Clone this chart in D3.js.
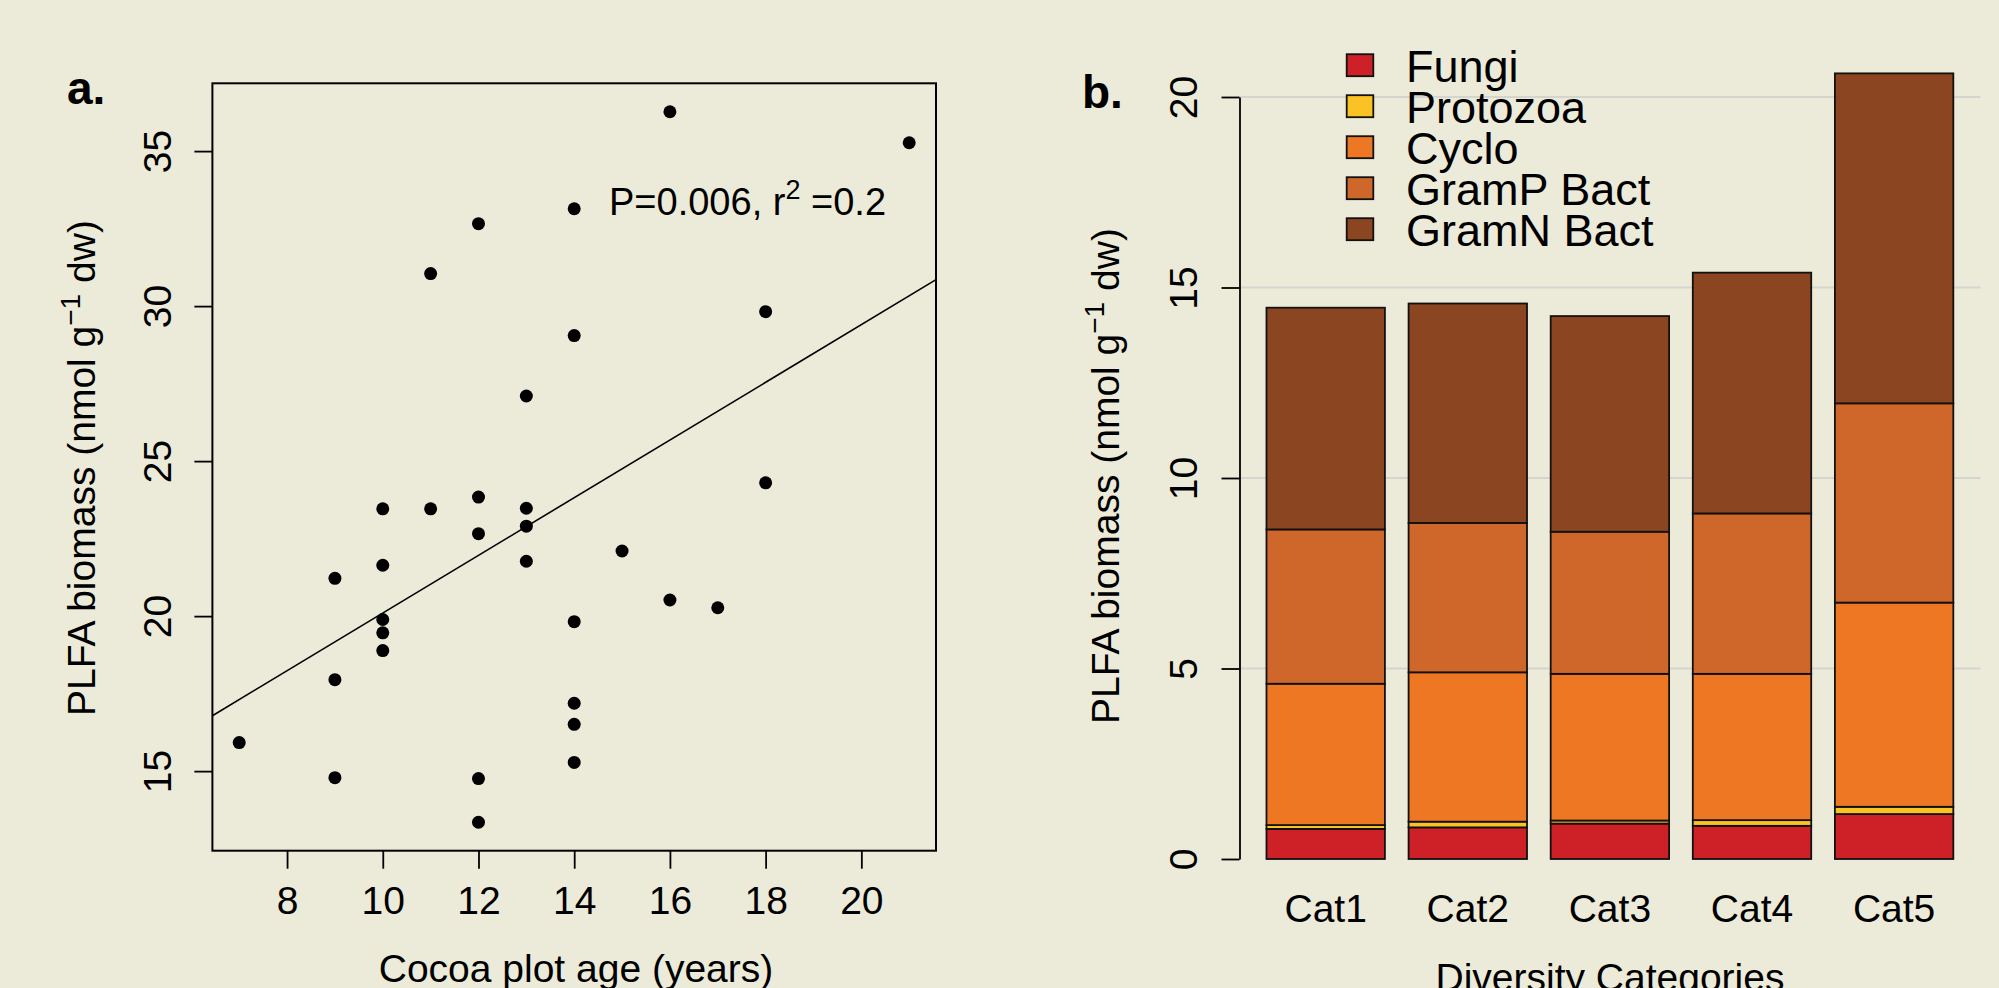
<!DOCTYPE html>
<html>
<head>
<meta charset="utf-8">
<script src="https://cdn.jsdelivr.net/npm/d3@7"></script>
<style>
  html, body { margin: 0; padding: 0; background: #ECEAD8; }
  svg { display: block; }
  text { font-family: "Liberation Sans", Arial, sans-serif; fill: #000; }
</style>
</head>
<body>
<svg id="chart" width="1999" height="988"></svg>
<script>
// panel a: plot age vs PLFA biomass
const ages = [7, 9, 9, 9, 10, 10, 10, 10, 10, 11, 11, 12, 12, 12, 12, 12,
  13, 13, 13, 13, 14, 14, 14, 14, 14, 14, 15, 16, 16, 17, 18, 18, 21];
const biomass = [15.92, 21.22, 17.95, 14.79, 23.46, 21.64, 19.89, 19.46, 18.89, 31.05, 23.46,
  32.66, 23.84, 22.66, 14.76, 13.35, 27.10, 23.48, 22.90, 21.77, 33.14, 29.05, 19.82,
  17.19, 16.51, 15.28, 22.10, 36.27, 20.52, 20.27, 29.82, 24.30, 35.27];
const ageTicks = [8, 10, 12, 14, 16, 18, 20];
const biomassTicks = [15, 20, 25, 30, 35];

// panel b: stacked PLFA groups per diversity category
const categories = ["Cat1", "Cat2", "Cat3", "Cat4", "Cat5"];
const groups = ["Fungi", "Protozoa", "Cyclo", "GramP Bact", "GramN Bact"];
const fungi    = [0.79, 0.83, 0.93, 0.87, 1.18];
const protozoa = [0.10, 0.15, 0.08, 0.15, 0.19];
const cyclo    = [3.71, 3.92, 3.85, 3.84, 5.36];
const gramP    = [4.05, 3.92, 3.73, 4.21, 5.23];
const gramN    = [5.82, 5.76, 5.66, 6.32, 8.66];
const stackTicks = [0, 5, 10, 15, 20];
const groupColors = ["#CD2027", "#FBC223", "#EE7723", "#D0672A", "#8B4520"];

let svg = d3.select("#chart");

// ---------- panel a ----------
let pad = (ext) => { let r = ext[1] - ext[0]; return [ext[0] - 0.04 * r, ext[1] + 0.04 * r]; };
let x = d3.scaleLinear().domain(pad(d3.extent(ages))).range([212.4, 936]);
let y = d3.scaleLinear().domain(pad(d3.extent(biomass))).range([850.7, 83.3]);

let a = svg.append("g");

a.append("clipPath").attr("id", "clipA")
  .append("rect")
    .attr("x", x.range()[0]).attr("y", y.range()[1])
    .attr("width", x.range()[1] - x.range()[0])
    .attr("height", y.range()[0] - y.range()[1]);

// least squares fit
let mx = d3.mean(ages), my = d3.mean(biomass);
let sxy = d3.sum(ages, (d, i) => (d - mx) * (biomass[i] - my));
let sxx = d3.sum(ages, d => (d - mx) * (d - mx));
let slope = sxy / sxx, icpt = my - slope * mx;
let xd = x.domain();

a.append("line")
  .attr("clip-path", "url(#clipA)")
  .attr("x1", x(xd[0])).attr("y1", y(icpt + slope * xd[0]))
  .attr("x2", x(xd[1])).attr("y2", y(icpt + slope * xd[1]))
  .attr("stroke", "#000").attr("stroke-width", 1.6);

a.selectAll("circle")
  .data(ages.map((d, i) => [d, biomass[i]]))
  .enter().append("circle")
    .attr("cx", d => x(d[0]))
    .attr("cy", d => y(d[1]))
    .attr("r", 6.5)
    .attr("fill", "#000");

a.append("rect")
  .attr("x", x.range()[0]).attr("y", y.range()[1])
  .attr("width", x.range()[1] - x.range()[0])
  .attr("height", y.range()[0] - y.range()[1])
  .attr("fill", "none").attr("stroke", "#000").attr("stroke-width", 2);

let ax = a.append("g")
  .attr("transform", `translate(0,${y.range()[0]})`)
  .call(d3.axisBottom(x).tickValues(ageTicks).tickSize(18).tickSizeOuter(0));
ax.select(".domain").remove();
ax.selectAll("line").attr("stroke-width", 1.8);
ax.selectAll("text").attr("y", 63).attr("dy", 0).attr("font-size", 39)
  .attr("font-family", "Liberation Sans, Arial, sans-serif");

let ay = a.append("g")
  .attr("transform", `translate(${x.range()[0]},0)`)
  .call(d3.axisLeft(y).tickValues(biomassTicks).tickSize(18).tickSizeOuter(0));
ay.select(".domain").remove();
ay.selectAll("line").attr("stroke-width", 1.8);
ay.selectAll("text")
  .attr("transform", "rotate(-90)")
  .attr("x", 0).attr("y", -41).attr("dy", 0)
  .attr("text-anchor", "middle").attr("font-size", 39)
  .attr("font-family", "Liberation Sans, Arial, sans-serif");

a.append("text")
  .attr("x", 576).attr("y", 981.7)
  .attr("text-anchor", "middle").attr("font-size", 39)
  .text("Cocoa plot age (years)");

function ylab(g, cx, cy) {
  let t = g.append("text")
    .attr("transform", `translate(${cx},${cy}) rotate(-90)`)
    .attr("text-anchor", "middle").attr("font-size", 39);
  t.append("tspan").text("PLFA biomass (nmol g");
  t.append("tspan").attr("dy", -15).attr("font-size", 28).text("\u22121");
  t.append("tspan").attr("dy", 15).text(" dw)");
}
ylab(a, 95, 468);

let ann = a.append("text").attr("x", 609).attr("y", 215).attr("font-size", 38);
ann.append("tspan").text("P=0.006, r");
ann.append("tspan").attr("dy", -16).attr("font-size", 27).text("2");
ann.append("tspan").attr("dy", 16).text(" =0.2");

a.append("text")
  .attr("x", 67).attr("y", 104)
  .attr("font-family", "Lato, sans-serif").attr("font-weight", "bold").attr("font-size", 46)
  .text("a.");

// ---------- panel b ----------
let b = svg.append("g");
let xb = d3.scaleBand().domain(categories).range([1242.8, 1977])
  .paddingInner(1 / 6).paddingOuter(1 / 6);
let yb = d3.scaleLinear().domain([0, 20]).range([859, 97]);
let regionR = 1980.5, axisX = 1239.5;

b.selectAll("line.grid")
  .data(stackTicks.filter(d => d > 0))
  .enter().append("line")
    .attr("class", "grid")
    .attr("x1", axisX).attr("x2", regionR)
    .attr("y1", d => yb(d)).attr("y2", d => yb(d))
    .attr("stroke", "#D5D5D0").attr("stroke-width", 2);

let table = categories.map((c, i) => ({
  cat: c, "Fungi": fungi[i], "Protozoa": protozoa[i], "Cyclo": cyclo[i],
  "GramP Bact": gramP[i], "GramN Bact": gramN[i]
}));
let series = d3.stack().keys(groups)(table);
let color = d3.scaleOrdinal().domain(groups).range(groupColors);

b.selectAll("g.layer")
  .data(series)
  .enter().append("g")
    .attr("class", "layer")
    .attr("fill", d => color(d.key))
  .selectAll("rect")
  .data(d => d)
  .enter().append("rect")
    .attr("x", d => xb(d.data.cat))
    .attr("width", xb.bandwidth())
    .attr("y", d => yb(d[1]))
    .attr("height", d => yb(d[0]) - yb(d[1]))
    .attr("stroke", "#111").attr("stroke-width", 1.8);

let by = b.append("g")
  .attr("transform", `translate(${axisX},0)`)
  .call(d3.axisLeft(yb).tickValues(stackTicks).tickSize(18).tickSizeOuter(0));
by.select(".domain").attr("stroke-width", 1.8);
by.selectAll("line").attr("stroke-width", 1.8);
by.selectAll("text")
  .attr("transform", "rotate(-90)")
  .attr("x", 0).attr("y", -42.5).attr("dy", 0)
  .attr("text-anchor", "middle").attr("font-size", 39)
  .attr("font-family", "Liberation Sans, Arial, sans-serif");

b.selectAll("text.cat")
  .data(categories)
  .enter().append("text")
    .attr("class", "cat")
    .attr("x", d => xb(d) + xb.bandwidth() / 2)
    .attr("y", 922)
    .attr("text-anchor", "middle").attr("font-size", 39)
    .text(d => d);

b.append("text")
  .attr("x", (axisX + regionR) / 2).attr("y", 991)
  .attr("text-anchor", "middle").attr("font-size", 39)
  .text("Diversity Categories");

ylab(b, 1119, 476);

let leg = b.selectAll("g.leg")
  .data(groups)
  .enter().append("g")
    .attr("class", "leg")
    .attr("transform", (d, i) => `translate(1346.7,${65.2 + i * 41})`);
leg.append("rect")
  .attr("x", 0).attr("y", -11).attr("width", 26.6).attr("height", 22)
  .attr("fill", d => color(d)).attr("stroke", "#111").attr("stroke-width", 1.8);
leg.append("text")
  .attr("x", 59.3).attr("y", 16.3).attr("font-size", 45)
  .text(d => d);

b.append("text")
  .attr("x", 1082).attr("y", 108)
  .attr("font-family", "Lato, sans-serif").attr("font-weight", "bold").attr("font-size", 46)
  .text("b.");
</script>
</body>
</html>
